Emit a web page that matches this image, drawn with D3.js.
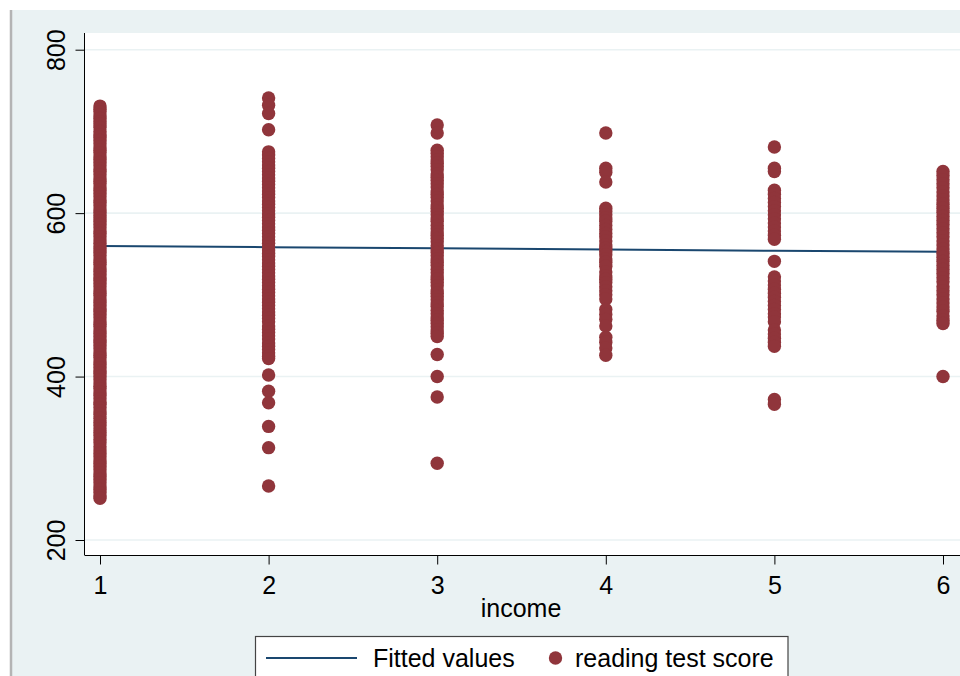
<!DOCTYPE html>
<html>
<head>
<meta charset="utf-8">
<script src="https://cdn.jsdelivr.net/npm/d3@7"></script>
<style>
  html, body { margin: 0; padding: 0; background: #ffffff; }
  svg { display: block; }
  text { font-family: "Liberation Sans", Arial, sans-serif; fill: #000; }
</style>
</head>
<body>
<svg id="chart" width="960" height="676"></svg>
<script>
// ---- Data ----
const incomeLevels = [1, 2, 3, 4, 5, 6];
const xTickLabels = ["1", "2", "3", "4", "5", "6"];
const yTickValues = [200, 400, 600, 800];

const scoresIncome1 = [731, 727, 724, 720, 716, 712, 709, 705, 700, 696, 693, 689, 685, 681, 677, 674, 670, 666, 662, 658,
  654, 651, 647, 643, 639, 636, 632, 628, 624, 620, 616, 613, 609, 605, 601, 597, 594, 590, 586, 582, 578, 575, 571, 567,
  563, 559, 556, 552, 548, 544, 540, 537, 533, 529, 525, 521, 518, 514, 510, 506, 502, 499, 495, 491, 487, 483, 480, 476,
  472, 468, 464, 461, 457, 453, 449, 445, 442, 438, 434, 430, 426, 423, 419, 415, 411, 407, 404, 400, 396, 392, 388, 385,
  381, 377, 373, 369, 366, 362, 358, 354, 349, 344, 340, 336, 332, 328, 323, 319, 314, 310, 306, 302, 298, 294, 290, 286,
  282, 278, 274, 270, 266, 262, 258, 254, 251];
const scoresIncome2 = [741, 732, 722, 702, 675, 671, 667, 663, 659, 655, 651, 647, 643, 639, 635, 631, 627, 623, 619, 615,
  611, 607, 603, 599, 595, 591, 587, 583, 579, 575, 571, 567, 563, 559, 555, 551, 547, 543, 539, 535, 531, 527, 523, 519,
  515, 511, 507, 503, 499, 495, 491, 487, 483, 479, 475, 471, 467, 462, 458, 454, 450, 446, 441, 437, 433, 429, 425, 422,
  402, 382, 368, 339, 313, 266];
const scoresIncome3 = [708, 698, 677, 673, 669, 665, 661, 657, 653, 648, 644, 640, 636, 632, 627, 623, 619, 615, 610, 606,
  602, 598, 594, 590, 585, 581, 577, 573, 569, 565, 560, 556, 552, 548, 544, 540, 536, 531, 527, 523, 519, 515, 511, 506,
  502, 498, 494, 490, 486, 481, 477, 473, 469, 465, 461, 457, 453, 449, 427, 400, 375, 294];
const scoresIncome4 = [698, 655, 650, 638, 606, 602, 598, 594, 590, 585, 580, 575, 571, 566, 561, 557, 553, 549, 544, 540,
  535, 528, 523, 519, 515, 510, 505, 500, 495, 482, 476, 470, 462, 448, 442, 435, 426];
const scoresIncome5 = [681, 655, 651, 628, 623, 618, 613, 608, 603, 598, 593, 588, 583, 578, 573, 568, 541, 522, 517, 512,
  507, 502, 497, 492, 487, 482, 477, 473, 467, 457, 452, 447, 442, 437, 372, 366];
const scoresIncome6 = [651, 646, 641, 636, 631, 626, 621, 616, 611, 606, 601, 596, 591, 586, 581, 576, 571, 566, 561, 556,
  551, 546, 541, 536, 531, 526, 521, 516, 510, 505, 500, 495, 490, 485, 480, 474, 469, 465, 400];
const fittedValues = [559.9, 558.4, 556.9, 555.5, 554.0, 552.6];

const xTitle = "income";
const legendLabels = ["Fitted values", "reading test score"];

// ---- Build point table ----
const scoreLists = [scoresIncome1, scoresIncome2, scoresIncome3, scoresIncome4, scoresIncome5, scoresIncome6];
const points = [];
scoreLists.forEach((arr, i) => arr.forEach(v => points.push({ income: incomeLevels[i], score: v })));
const fitted = incomeLevels.map((lv, i) => ({ income: lv, value: fittedValues[i] }));

// ---- Styles ----
const bgColor = "#eaf2f3";
const markerColor = "#90353b";
const lineColor = "#1a476f";

const svg = d3.select("#chart");

// graph region
svg.append("rect").attr("x", 10).attr("y", 10).attr("width", 950).attr("height", 666).attr("fill", bgColor);
svg.append("line").attr("x1", 11).attr("x2", 11).attr("y1", 10).attr("y2", 676)
  .attr("stroke", "#b4b4b4").attr("stroke-width", 2.5);

// plot region
const plot = { left: 85, top: 33, right: 960, bottom: 555 };
svg.append("rect").attr("x", plot.left).attr("y", plot.top)
  .attr("width", plot.right - plot.left).attr("height", plot.bottom - plot.top).attr("fill", "#ffffff");

const x = d3.scaleLinear().domain([1, 6]).range([100, 943]);
const y = d3.scaleLinear().domain([200, 800]).range([540, 49.7]);

// grid lines
svg.append("g").selectAll("line").data(yTickValues).join("line")
  .attr("x1", plot.left).attr("x2", plot.right)
  .attr("y1", d => y(d)).attr("y2", d => y(d))
  .attr("stroke", bgColor).attr("stroke-width", 1.6);

// fitted line
svg.append("path").datum(fitted)
  .attr("d", d3.line().x(d => x(d.income)).y(d => y(d.value)))
  .attr("fill", "none").attr("stroke", lineColor).attr("stroke-width", 2);

// scatter
svg.append("g").selectAll("circle").data(points).join("circle")
  .attr("cx", d => x(d.income)).attr("cy", d => y(d.score)).attr("r", 6.7)
  .attr("fill", markerColor);

// y axis
const yAxis = svg.append("g").attr("transform", `translate(${plot.left - 0.5},0)`)
  .call(d3.axisLeft(y).tickValues(yTickValues).tickSize(9).tickSizeOuter(0).tickFormat(d3.format("d")));
yAxis.select(".domain").attr("d", `M0,${plot.top}V${plot.bottom}`).attr("stroke", "#000");
yAxis.selectAll(".tick line").attr("stroke", "#000");
yAxis.selectAll(".tick text")
  .attr("x", null).attr("dy", null)
  .attr("transform", "translate(-19.5,0) rotate(-90)")
  .attr("text-anchor", "middle")
  .style("font-size", "25px")
  .style("font-family", "'Liberation Sans', Arial, sans-serif");

// x axis
const xAxis = svg.append("g").attr("transform", `translate(0,${plot.bottom + 0.5})`)
  .call(d3.axisBottom(x).tickValues(incomeLevels).tickSize(9).tickSizeOuter(0)
    .tickFormat((d, i) => xTickLabels[i]));
xAxis.select(".domain").attr("d", `M${plot.left - 0.5},0H${plot.right}`).attr("stroke", "#000");
xAxis.selectAll(".tick line").attr("stroke", "#000");
xAxis.selectAll(".tick text")
  .attr("y", 38.5).attr("dy", null)
  .style("font-size", "25px")
  .style("font-family", "'Liberation Sans', Arial, sans-serif");

// x title
svg.append("text").attr("x", 521).attr("y", 617).attr("text-anchor", "middle")
  .style("font-size", "25px").text(xTitle);

// legend
const lg = svg.append("g");
lg.append("rect").attr("x", 255.5).attr("y", 636.5).attr("width", 532.5).attr("height", 60)
  .attr("fill", "#ffffff").attr("stroke", "#444").attr("stroke-width", 1.2);
lg.append("line").attr("x1", 266).attr("x2", 357).attr("y1", 658).attr("y2", 658)
  .attr("stroke", lineColor).attr("stroke-width", 2);
lg.append("text").attr("x", 373).attr("y", 667).style("font-size", "25px").text(legendLabels[0]);
lg.append("circle").attr("cx", 555.5).attr("cy", 658).attr("r", 6.7).attr("fill", markerColor);
lg.append("text").attr("x", 575).attr("y", 667).style("font-size", "25px").text(legendLabels[1]);
</script>
</body>
</html>
